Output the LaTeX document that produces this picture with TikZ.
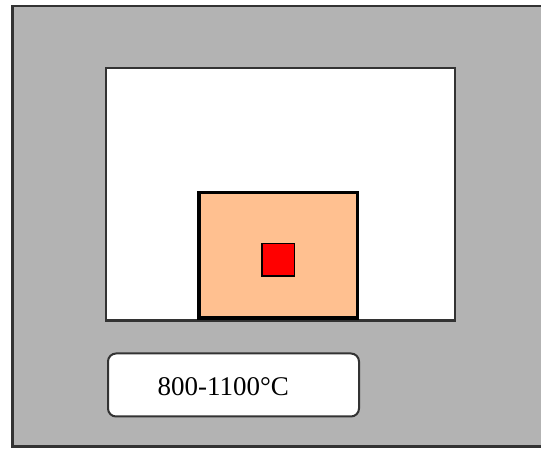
\documentclass[tikz,border=0pt]{standalone}
\usepackage{fontspec}
\setmainfont{Liberation Serif}
\usetikzlibrary{positioning}
\definecolor{casing}{HTML}{B3B3B3}
\definecolor{crucible}{HTML}{FFC090}
\definecolor{rim}{HTML}{333333}

\begin{document}
\begin{tikzpicture}[x=1pt, y=1pt,
  wall/.style={draw, inner sep=0pt, outer sep=0pt, anchor=north west},
  tag/.style={font=\fontsize{27}{30}\selectfont, inner sep=0pt}]
\useasboundingbox (0,0) rectangle (541,450);
\node[wall, fill=casing, draw=rim, line width=2.5pt,
      minimum width=535, minimum height=440.5] (oven) at (12.5,444) {};
\node[wall, fill=white, draw=rim, line width=2.5pt,
      minimum width=349, minimum height=252.5] (chamber) at (106,382) {};
\node[wall, fill=crucible, line width=3.5pt,
      minimum width=158.5, minimum height=125.5] (pot) at (199,257.5) {};
\node[draw, fill=red, line width=1.5pt, inner sep=0pt, outer sep=0pt,
      minimum width=32.3, minimum height=32.7, yshift=-4.5pt] (core) at (pot.center) {};
\node[wall, fill=white, draw=rim, line width=2pt, rounded corners=8pt,
      minimum width=251, minimum height=63] (label) at (108,96.5) {};
\node[tag] (temp) at ([xshift=-10.2pt, yshift=-1.5pt]label.center) {800-1100°C};
\end{tikzpicture}
\end{document}
